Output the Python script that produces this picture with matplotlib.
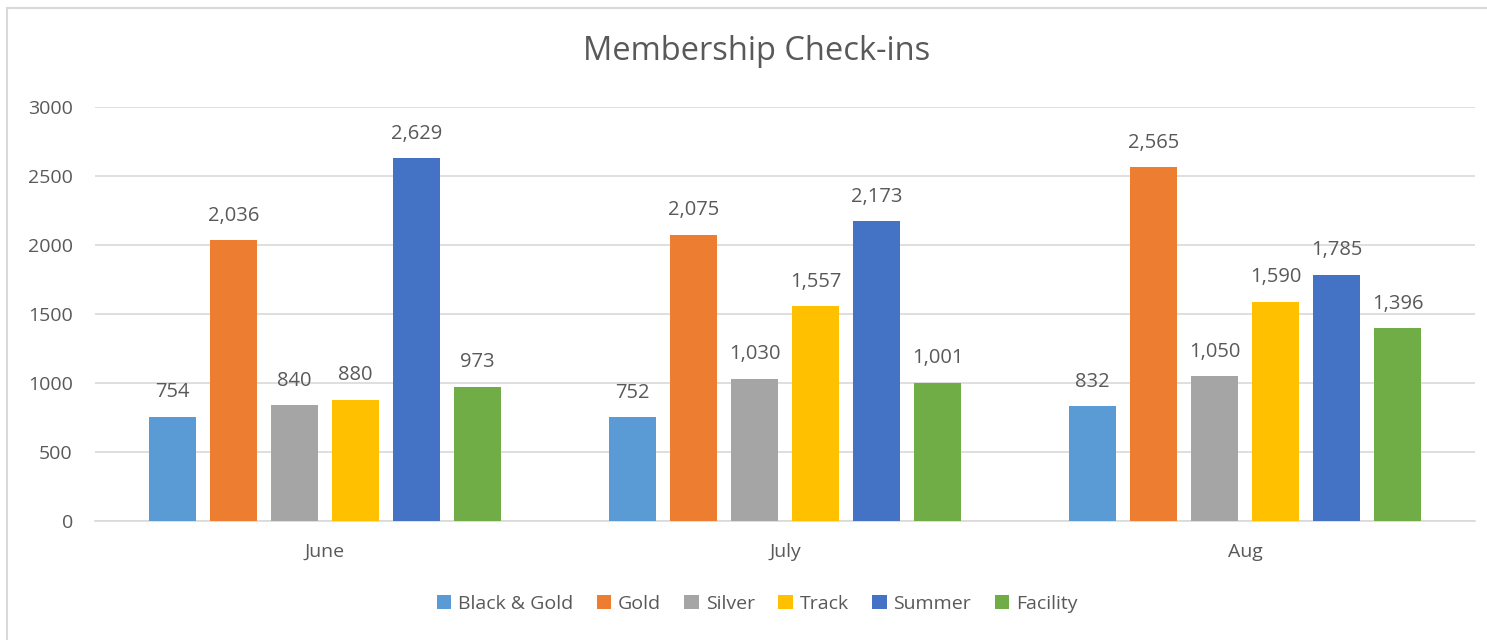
import matplotlib.pyplot as plt
import numpy as np
from matplotlib.patches import Rectangle

months = ["June", "July", "Aug"]
series = ["Black & Gold", "Gold", "Silver", "Track", "Summer", "Facility"]
black_gold = [754, 752, 832]
gold = [2036, 2075, 2565]
silver = [840, 1030, 1050]
track = [880, 1557, 1590]
summer = [2629, 2173, 1785]
facility = [973, 1001, 1396]
yticks = [0, 500, 1000, 1500, 2000, 2500, 3000]

colors = ["#5B9BD5", "#ED7D31", "#A5A5A5", "#FFC000", "#4472C4", "#70AD47"]
values = [black_gold, gold, silver, track, summer, facility]

plt.rcParams['font.family'] = ['Open Sans', 'DejaVu Sans']
text_color = "#595959"

fig = plt.figure(figsize=(14.87, 6.4), dpi=100)
ax = fig.add_axes([95 / 1487, 1 - 521 / 640, 1380 / 1487, 414 / 640])

# chart border (only top/left visible in the reference)
fig.patches.append(Rectangle((7 / 1487, -0.1), 1.2, 1 - 8 / 640 + 0.1,
                             transform=fig.transFigure, fill=False,
                             edgecolor="#D9D9D9", linewidth=1.5))

x = np.arange(len(months))
step = 0.1326
width = 0.104
for i, (name, vals, c) in enumerate(zip(series, values, colors)):
    pos = x + (i - 2.5) * step
    bars = ax.bar(pos, vals, width, color=c, label=name, zorder=3)
    for b, v in zip(bars, vals):
        ax.text(b.get_x() + b.get_width() / 2, v + 105, f"{v:,}",
                ha="center", va="bottom", fontsize=14.5, color=text_color)

ax.set_xlim(-0.5, 2.5)
ax.set_ylim(0, 3000)
ax.set_yticks(yticks)
ax.set_yticklabels([str(t) for t in yticks])
ax.set_xticks(x)
ax.set_xticklabels(months)
ax.tick_params(axis="both", length=0, labelsize=14, labelcolor=text_color)
ax.tick_params(axis="y", pad=16)
ax.tick_params(axis="x", pad=16)
ax.grid(axis="y", color="#D9D9D9", linewidth=1.2, zorder=0)
for s in ["top", "right", "left"]:
    ax.spines[s].set_visible(False)
ax.spines["bottom"].set_color("#D9D9D9")
ax.spines["bottom"].set_linewidth(1.2)

fig.text(757 / 1487, 1 - 52 / 640, "Membership Check-ins", ha="center",
         va="center", fontsize=23.5, color=text_color)

leg = fig.legend(loc="center", bbox_to_anchor=(757 / 1487, 1 - 604 / 640),
                 ncol=6, frameon=False, fontsize=14, handlelength=0.75,
                 handleheight=0.75, handletextpad=0.35, columnspacing=1.2,
                 labelcolor=text_color)

fig.savefig("out.png", dpi=100, facecolor="white")
